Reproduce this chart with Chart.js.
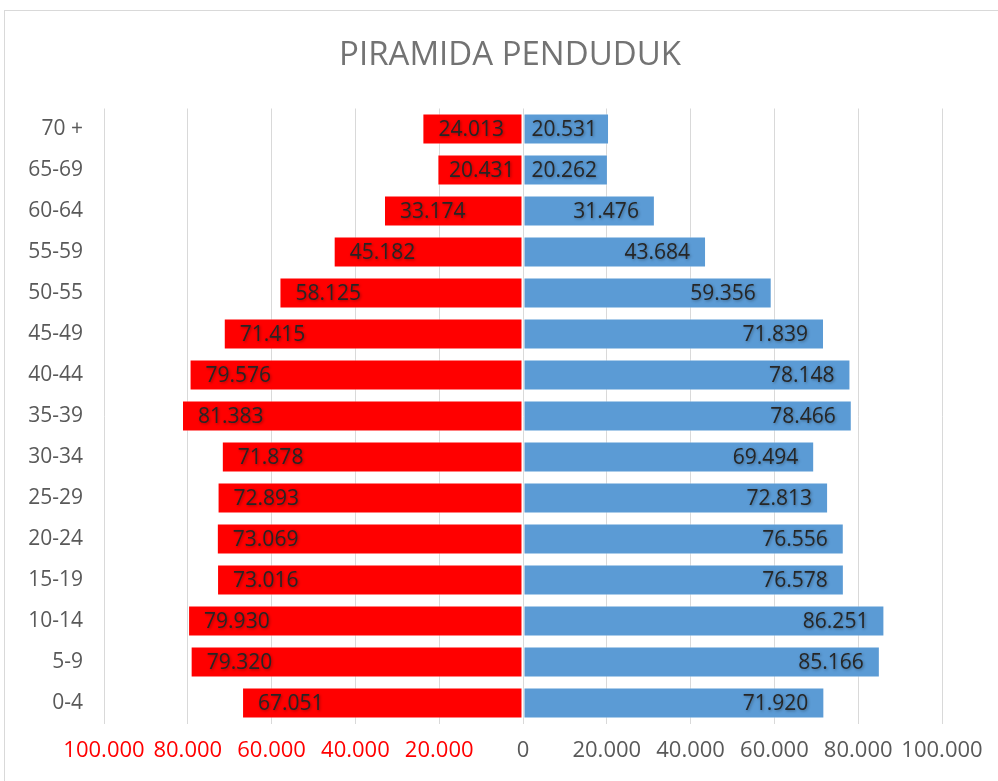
<!DOCTYPE html>
<html>
<head>
<meta charset="utf-8">
<script src="https://cdn.jsdelivr.net/npm/chart.js@4.4.1/dist/chart.umd.min.js"></script>
<style>
  html, body { margin: 0; padding: 0; background: #fff; }
  #wrap { position: absolute; left: 0; top: 0; width: 998px; height: 781px; }
</style>
</head>
<body>
<div id="wrap"><canvas id="c" width="998" height="781"></canvas></div>
<script>
// Data (top row first)
const categories = ['70 +', '65-69', '60-64', '55-59', '50-55', '45-49', '40-44', '35-39', '30-34', '25-29', '20-24', '15-19', '10-14', '5-9', '0-4'];
const leftValues = [24013, 20431, 33174, 45182, 58125, 71415, 79576, 81383, 71878, 72893, 73069, 73016, 79930, 79320, 67051];
const rightValues = [20531, 20262, 31476, 43684, 59356, 71839, 78148, 78466, 69494, 72813, 76556, 76578, 86251, 85166, 71920];
const tickValues = [-100000, -80000, -60000, -40000, -20000, 0, 20000, 40000, 60000, 80000, 100000];
const chartTitle = 'PIRAMIDA PENDUDUK';

function fmt(v) {
  v = Math.abs(Math.round(v));
  if (v === 0) return '0';
  return String(v).replace(/\B(?=(\d{3})+(?!\d))/g, '.');
}

const FONT = "'Open Sans', 'DejaVu Sans', sans-serif";

const frame = {
  id: 'frame',
  beforeDraw(chart) {
    const ctx = chart.ctx;
    ctx.save();
    ctx.strokeStyle = '#D9D9D9';
    ctx.lineWidth = 1;
    ctx.strokeRect(4.5, 10.5, 1000, 800);
    ctx.restore();
  },
  afterDraw(chart) {
    const ctx = chart.ctx;
    ctx.save();
    ctx.font = "33px " + FONT;
    ctx.fillStyle = '#737373';
    ctx.textAlign = 'center';
    ctx.textBaseline = 'middle';
    ctx.fillText(chartTitle, 510, 56);
    ctx.restore();
  }
};

const barLabels = {
  id: 'barLabels',
  afterDatasetsDraw(chart) {
    const ctx = chart.ctx;
    ctx.save();
    ctx.font = "21px " + FONT;
    ctx.textBaseline = 'middle';
    ctx.textAlign = 'left';
    ctx.fillStyle = '#262626';
    ctx.shadowColor = 'rgba(0,0,0,0.35)';
    ctx.shadowBlur = 3;
    ctx.shadowOffsetX = 1;
    ctx.shadowOffsetY = 1;
    chart.data.datasets.forEach((ds, di) => {
      const meta = chart.getDatasetMeta(di);
      meta.data.forEach((el, i) => {
        const p = el.getProps(['x', 'y', 'base'], true);
        const txt = fmt(ds.data[i]);
        const w = ctx.measureText(txt).width;
        let sx;
        if (p.x < p.base) {
          sx = Math.min(p.x + 16, p.base - 8 - w);
        } else {
          sx = Math.max(p.x - 16 - w, p.base + 8);
        }
        ctx.fillText(txt, sx, p.y + 1);
      });
    });
    ctx.restore();
  }
};

new Chart(document.getElementById('c'), {
  type: 'bar',
  data: {
    labels: categories,
    datasets: [
      {
        label: 'L',
        data: leftValues.map(v => -v),
        backgroundColor: '#FF0000',
        borderColor: 'rgba(255,255,255,0.55)',
        borderWidth: 1,
        borderSkipped: false,
        barPercentage: 0.76,
        categoryPercentage: 1
      },
      {
        label: 'R',
        data: rightValues,
        backgroundColor: '#5B9BD5',
        borderColor: 'rgba(255,255,255,0.55)',
        borderWidth: 1,
        borderSkipped: false,
        barPercentage: 0.76,
        categoryPercentage: 1
      }
    ]
  },
  options: {
    indexAxis: 'y',
    responsive: false,
    animation: false,
    layout: { padding: { left: 0, right: 56, top: 108.5, bottom: 0 } },
    plugins: {
      legend: { display: false },
      tooltip: { enabled: false },
      title: { display: false }
    },
    scales: {
      x: {
        stacked: true,
        min: -100000,
        max: 100000,
        afterBuildTicks(scale) { scale.ticks = tickValues.map(v => ({ value: v })); },
        afterFit(scale) { scale.height = 57.5; },
        grid: { color: '#D9D9D9', lineWidth: 1, drawTicks: false },
        border: { display: false },
        ticks: {
          padding: 14,
          maxRotation: 0,
          autoSkip: false,
          font: { family: FONT, size: 22 },
          color: (c) => (c.tick && c.tick.value < 0 ? '#FF0000' : '#595959'),
          callback: (v) => fmt(v)
        }
      },
      y: {
        stacked: true,
        afterFit(scale) { scale.width = 104; },
        grid: { display: false, drawTicks: false },
        border: { display: false },
        ticks: {
          padding: 21,
          autoSkip: false,
          font: { family: FONT, size: 21 },
          color: '#595959'
        }
      }
    }
  },
  plugins: [frame, barLabels]
});
</script>
</body>
</html>
